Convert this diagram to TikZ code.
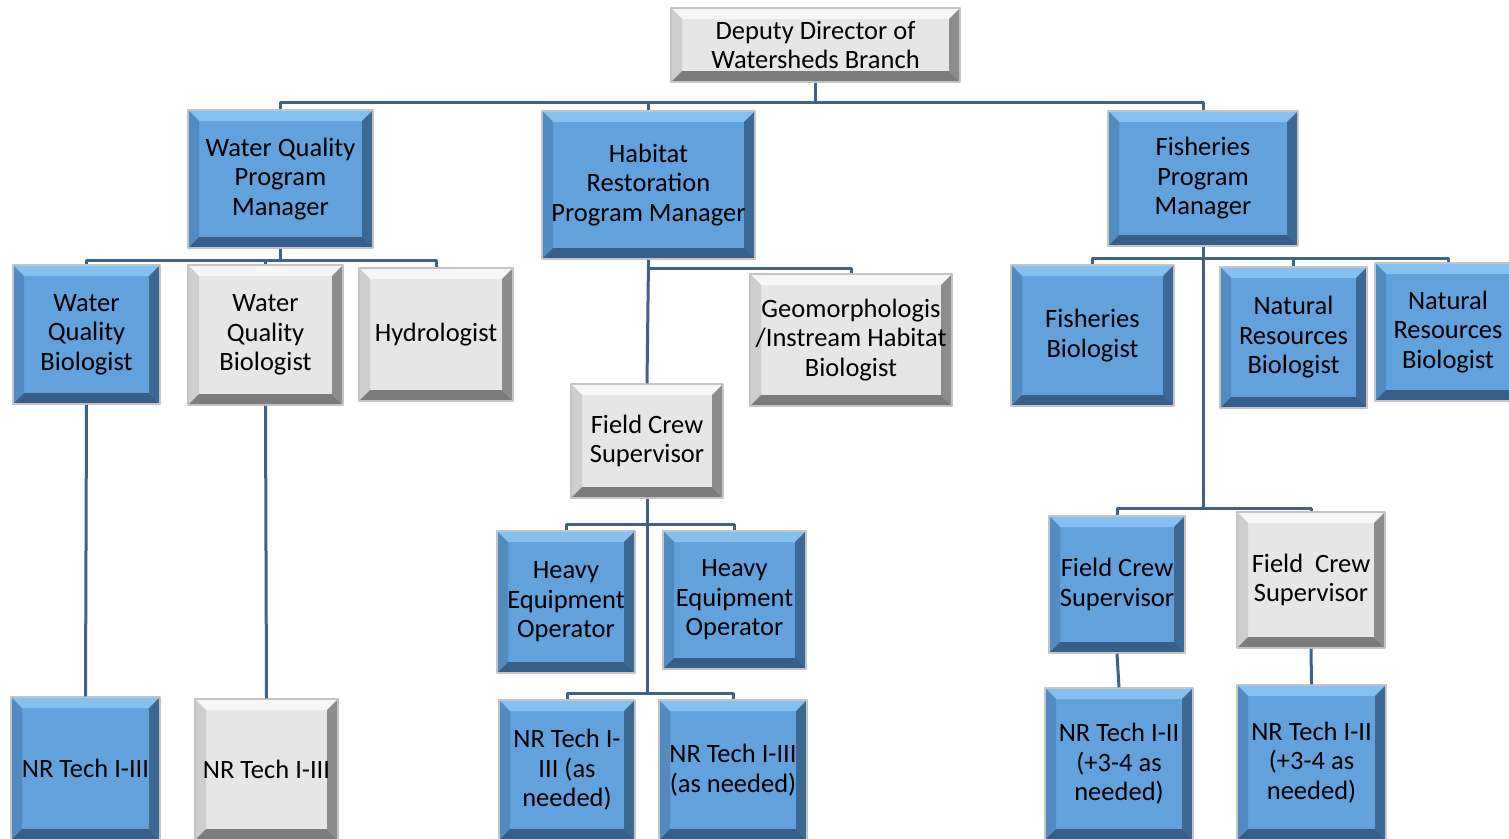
\documentclass[tikz,border=0pt]{standalone}
\usepackage{fontspec}
\setmainfont{Carlito}

\definecolor{bluemid}{RGB}{99,161,220}
\definecolor{bluetop}{RGB}{132,192,240}
\definecolor{blueleft}{RGB}{82,138,194}
\definecolor{blueright}{RGB}{60,104,148}
\definecolor{bluebottom}{RGB}{54,94,136}
\definecolor{graymid}{RGB}{230,230,230}
\definecolor{graytop}{RGB}{246,246,246}
\definecolor{grayleft}{RGB}{206,206,206}
\definecolor{grayright}{RGB}{140,140,140}
\definecolor{graybottom}{RGB}{124,124,124}
\definecolor{boxedge}{RGB}{196,196,196}
\definecolor{linkblue}{RGB}{62,98,136}

% bevel: top, left, right, bottom
\newcommand{\bevelfill}[4]{%
  \fill[#1] (path picture bounding box.north west) -- (path picture bounding box.north east)
    -- ([xshift=-11pt,yshift=-11pt]path picture bounding box.north east)
    -- ([xshift=11pt,yshift=-11pt]path picture bounding box.north west) -- cycle;
  \fill[#2] (path picture bounding box.north west) -- ([xshift=11pt,yshift=-11pt]path picture bounding box.north west)
    -- ([xshift=11pt,yshift=11pt]path picture bounding box.south west) -- (path picture bounding box.south west) -- cycle;
  \fill[#3] (path picture bounding box.north east) -- ([xshift=-11pt,yshift=-11pt]path picture bounding box.north east)
    -- ([xshift=-11pt,yshift=11pt]path picture bounding box.south east) -- (path picture bounding box.south east) -- cycle;
  \fill[#4] (path picture bounding box.south west) -- ([xshift=11pt,yshift=11pt]path picture bounding box.south west)
    -- ([xshift=-11pt,yshift=11pt]path picture bounding box.south east) -- (path picture bounding box.south east) -- cycle;
}

\begin{document}
\begin{tikzpicture}
    [
        x=1pt, y=-1pt, line join=round,
        box_size/.style 2 args={minimum width=#1pt, minimum height=#2pt},
        blue_style/.style={rectangle, draw=boxedge, line width=1.5pt, fill=bluemid, inner sep=0pt, align=center,
            font=\fontsize{26.5}{29.5}\selectfont,
            path picture={\bevelfill{bluetop}{blueleft}{blueright}{bluebottom}}},
        gray_style/.style={blue_style, fill=graymid,
            path picture={\bevelfill{graytop}{grayleft}{grayright}{graybottom}}},
        link_style/.style={draw=linkblue, line width=3pt}
    ]
        \useasboundingbox (0,0) rectangle (1509,838);

        \node[gray_style, box_size={289}{74}] (dd) at (815.5,45) {Deputy Director of\\Watersheds Branch};

        \node[blue_style, box_size={185}{138}] (wqpm) at (280.5,179) {Water Quality\\Program\\Manager};
        \node[blue_style, box_size={213}{148}] (hrpm) at (648.5,185) {Habitat\\Restoration\\Program Manager};
        \node[blue_style, box_size={190}{135}] (fpm) at (1203,178.5) {Fisheries\\Program\\Manager};

        \node[blue_style, box_size={147}{139}] (wqb1) at (86.5,334.5) {Water\\Quality\\Biologist};
        \node[gray_style, box_size={155}{140}] (wqb2) at (265.5,335) {Water\\Quality\\Biologist};
        \node[gray_style, box_size={154}{133}] (hydro) at (436,334.5) {Hydrologist};
        \node[gray_style, box_size={202}{132}] (geo) at (851,340) {Geomorphologis\\/Instream Habitat\\Biologist};
        \node[blue_style, box_size={163}{141}] (fb) at (1092.5,335.5) {Fisheries\\Biologist};
        \node[blue_style, box_size={147}{141}] (nrb1) at (1293.5,337.5) {Natural\\Resources\\Biologist};
        \node[blue_style, box_size={146}{138}] (nrb2) at (1448,332) {Natural\\Resources\\Biologist};

        \node[gray_style, box_size={152}{114}] (fcs1) at (647,441) {Field Crew\\Supervisor};
        \node[blue_style, box_size={138}{142}] (heo1) at (566,602) {Heavy\\Equipment\\Operator};
        \node[blue_style, box_size={143}{138}] (heo2) at (734.5,600) {Heavy\\Equipment\\Operator};
        \node[blue_style, box_size={136}{140}] (nrt1) at (567,770) {NR Tech I-\\III (as\\needed)};
        \node[blue_style, box_size={148}{140}] (nrt2) at (733,770) {NR Tech I-III\\(as needed)};

        \node[blue_style, box_size={136}{137}] (fcs2) at (1117,584.5) {Field Crew\\Supervisor};
        \node[gray_style, box_size={148}{136}] (fcs3) at (1311,580) {Field~ Crew\\Supervisor};
        \node[blue_style, box_size={148}{152}] (nrt3) at (1119,764) {NR Tech I-II\\(+3-4 as\\needed)};
        \node[blue_style, box_size={149}{155}] (nrt4) at (1311.5,762.5) {NR Tech I-II\\(+3-4 as\\needed)};

        \node[blue_style, box_size={149}{143}] (nrt5) at (85.5,768.5) {NR Tech I-III};
        \node[gray_style, box_size={143}{141}] (nrt6) at (266.5,769.5) {NR Tech I-III};

        \draw[link_style] (dd.south) |- (wqpm.north |- 0,102) -- (wqpm.north);
        \draw[link_style] (dd.south) |- (hrpm.north |- 0,102) -- (hrpm.north);
        \draw[link_style] (dd.south) |- (fpm.north |- 0,102) -- (fpm.north);

        \draw[link_style] (wqpm.south) |- (wqb1.north |- 0,260) -- (wqb1.north);
        \draw[link_style] (wqpm.south) |- (wqb2.north |- 0,260) -- (wqb2.north);
        \draw[link_style] (wqpm.south) |- (hydro.north |- 0,260) -- (hydro.north);
        \draw[link_style] (wqb1.south) -- (nrt5.north);
        \draw[link_style] (wqb2.south) -- (nrt6.north);

        \draw[link_style] (hrpm.south) |- (geo.north |- 0,268) -- (geo.north);
        \draw[link_style] (hrpm.south) -- (fcs1.north);
        \draw[link_style] (fcs1.south) |- (heo1.north |- 0,524) -- (heo1.north);
        \draw[link_style] (fcs1.south) |- (heo2.north |- 0,524) -- (heo2.north);
        \draw[link_style] (fcs1.south) |- (nrt1.north |- 0,693) -- (nrt1.north);
        \draw[link_style] (fcs1.south) |- (nrt2.north |- 0,693) -- (nrt2.north);

        \draw[link_style] (fpm.south) |- (fb.north |- 0,258) -- (fb.north);
        \draw[link_style] (fpm.south) |- (nrb1.north |- 0,258) -- (nrb1.north);
        \draw[link_style] (fpm.south) |- (nrb2.north |- 0,258) -- (nrb2.north);
        \draw[link_style] (fpm.south) |- (fcs2.north |- 0,508) -- (fcs2.north);
        \draw[link_style] (fpm.south) |- (fcs3.north |- 0,508) -- (fcs3.north);
        \draw[link_style] (fcs2.south) -- (nrt3.north);
        \draw[link_style] (fcs3.south) -- (nrt4.north);
    \end{tikzpicture}
\end{document}
